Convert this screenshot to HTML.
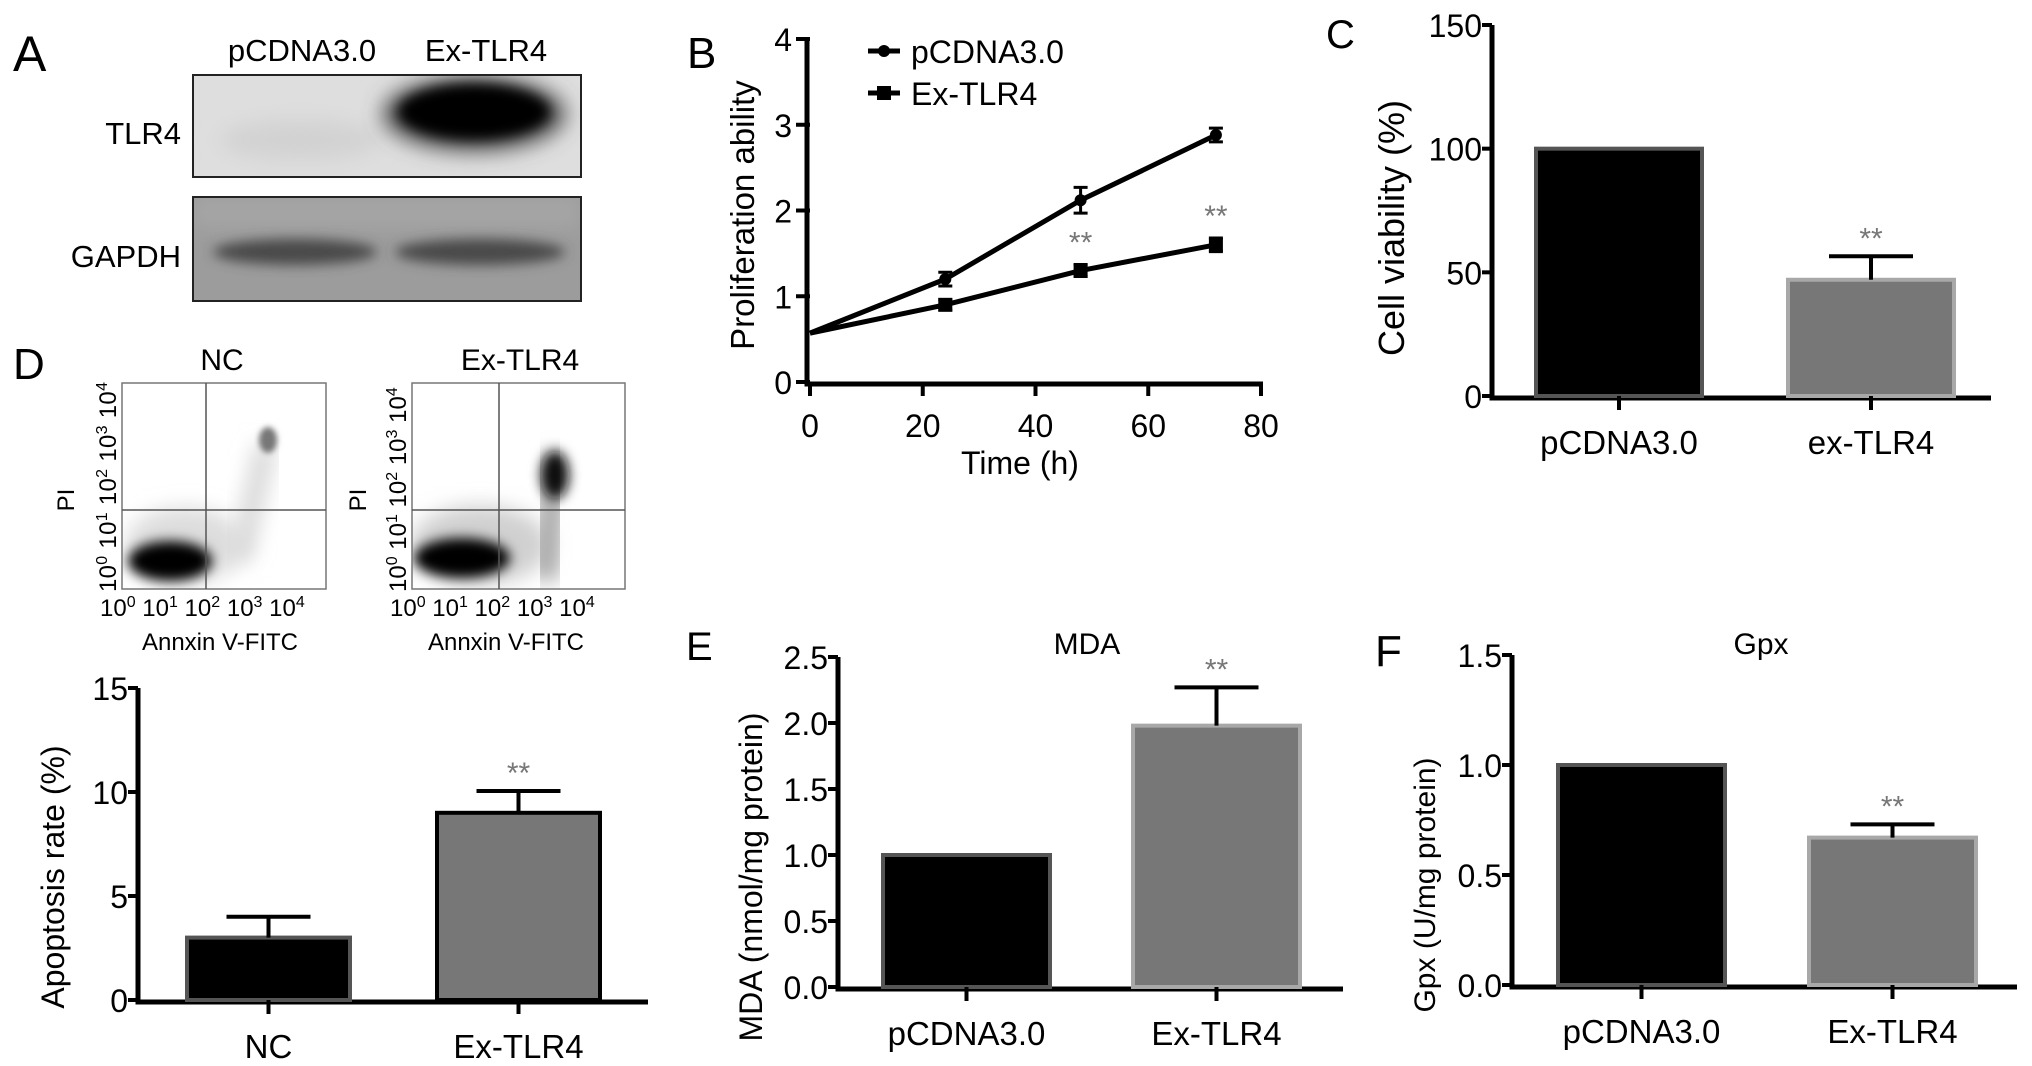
<!DOCTYPE html>
<html><head><meta charset="utf-8">
<style>
html,body{margin:0;padding:0;background:#fff;}
svg{display:block;font-family:"Liberation Sans",sans-serif;}
.nar{font-family:"Liberation Sans Narrow","Liberation Sans",sans-serif;}
</style></head>
<body>
<svg id="fig" width="2032" height="1066" viewBox="0 0 2032 1066" xmlns="http://www.w3.org/2000/svg">
<defs>
<filter id="blur8" x="-50%" y="-50%" width="200%" height="200%"><feGaussianBlur stdDeviation="10"/></filter>
<filter id="blur5" x="-50%" y="-50%" width="200%" height="200%"><feGaussianBlur stdDeviation="6"/></filter>
<filter id="blur3" x="-50%" y="-50%" width="200%" height="200%"><feGaussianBlur stdDeviation="3"/></filter>
<clipPath id="cb1"><rect x="193" y="75" width="388" height="102"/></clipPath>
<clipPath id="cb2"><rect x="193" y="197" width="388" height="104"/></clipPath>
<clipPath id="cf1"><rect x="122" y="383" width="204" height="206"/></clipPath>
<clipPath id="cf2"><rect x="412" y="383" width="213" height="206"/></clipPath>
</defs>

<g>
<text x="13" y="71" font-size="50" class="nar">A</text>
<text x="302" y="61" font-size="31" text-anchor="middle" class="nar">pCDNA3.0</text>
<text x="486" y="61" font-size="31" text-anchor="middle" class="nar">Ex-TLR4</text>
<text x="181" y="144" font-size="31" text-anchor="end" class="nar">TLR4</text>
<text x="181" y="267" font-size="31" text-anchor="end" class="nar">GAPDH</text>
<g clip-path="url(#cb1)">
<rect x="193" y="75" width="388" height="102" fill="#dedede"/>
<ellipse cx="300" cy="140" rx="80" ry="20" fill="#d2d2d2" filter="url(#blur8)"/>
<ellipse cx="474" cy="114" rx="92" ry="38" fill="#555" filter="url(#blur8)"/>
<ellipse cx="474" cy="112" rx="76" ry="28" fill="#000" filter="url(#blur5)"/>
</g>
<rect x="193" y="75" width="388" height="102" fill="none" stroke="#222" stroke-width="2"/>
<g clip-path="url(#cb2)">
<rect x="193" y="197" width="388" height="104" fill="#9c9c9c"/>
<rect x="193" y="197" width="388" height="30" fill="#a6a6a6" filter="url(#blur8)"/>
<ellipse cx="295" cy="252" rx="82" ry="13" fill="#4a4a4a" filter="url(#blur5)"/>
<ellipse cx="480" cy="252" rx="85" ry="13" fill="#4a4a4a" filter="url(#blur5)"/>
</g>
<rect x="193" y="197" width="388" height="104" fill="none" stroke="#222" stroke-width="2"/>
</g>

<g>
<text x="13" y="379" font-size="44" class="nar">D</text>
<text x="222" y="370" font-size="30" text-anchor="middle" class="nar">NC</text>
<text x="520" y="370" font-size="30" text-anchor="middle" class="nar">Ex-TLR4</text>
<g clip-path="url(#cf1)">
<rect x="122" y="383" width="204" height="206" fill="#fff"/>
<ellipse cx="185" cy="545" rx="60" ry="38" fill="#ddd" filter="url(#blur8)"/>
<path d="M240 560 L266 445" stroke="#d8d8d8" stroke-width="22" filter="url(#blur8)"/>
<ellipse cx="268" cy="440" rx="9" ry="13" fill="#777" filter="url(#blur3)"/>
<ellipse cx="170" cy="561" rx="42" ry="20" fill="#000" filter="url(#blur5)"/>
</g>
<rect x="122" y="383" width="204" height="206" fill="none" stroke="#777" stroke-width="1.5"/>
<line x1="206" y1="383" x2="206" y2="589" stroke="#555" stroke-width="1.5"/>
<line x1="122" y1="510" x2="326" y2="510" stroke="#555" stroke-width="1.5"/>
<g clip-path="url(#cf2)">
<rect x="412" y="383" width="213" height="206" fill="#fff"/>
<ellipse cx="480" cy="545" rx="70" ry="40" fill="#d0d0d0" filter="url(#blur8)"/>
<path d="M545 580 L555 455" stroke="#aaa" stroke-width="28" filter="url(#blur8)"/>
<ellipse cx="462" cy="558" rx="48" ry="20" fill="#000" filter="url(#blur5)"/>
<ellipse cx="555" cy="475" rx="14" ry="24" fill="#111" filter="url(#blur5)"/>
</g>
<rect x="412" y="383" width="213" height="206" fill="none" stroke="#777" stroke-width="1.5"/>
<line x1="499" y1="383" x2="499" y2="589" stroke="#555" stroke-width="1.5"/>
<line x1="412" y1="510" x2="625" y2="510" stroke="#555" stroke-width="1.5"/>
<g font-size="24" class="nar">
<text transform="translate(116,592) rotate(-90)" textLength="210">10<tspan dy="-9" font-size="16">0</tspan><tspan dy="9"> 10</tspan><tspan dy="-9" font-size="16">1</tspan><tspan dy="9"> 10</tspan><tspan dy="-9" font-size="16">2</tspan><tspan dy="9"> 10</tspan><tspan dy="-9" font-size="16">3</tspan><tspan dy="9"> 10</tspan><tspan dy="-9" font-size="16">4</tspan></text>
<text transform="translate(406,592) rotate(-90)">10<tspan dy="-9" font-size="16">0</tspan><tspan dy="9"> 10</tspan><tspan dy="-9" font-size="16">1</tspan><tspan dy="9"> 10</tspan><tspan dy="-9" font-size="16">2</tspan><tspan dy="9"> 10</tspan><tspan dy="-9" font-size="16">3</tspan><tspan dy="9"> 10</tspan><tspan dy="-9" font-size="16">4</tspan></text>
<text x="100" y="616">10<tspan dy="-9" font-size="16">0</tspan><tspan dy="9"> 10</tspan><tspan dy="-9" font-size="16">1</tspan><tspan dy="9"> 10</tspan><tspan dy="-9" font-size="16">2</tspan><tspan dy="9"> 10</tspan><tspan dy="-9" font-size="16">3</tspan><tspan dy="9"> 10</tspan><tspan dy="-9" font-size="16">4</tspan></text>
<text x="390" y="616">10<tspan dy="-9" font-size="16">0</tspan><tspan dy="9"> 10</tspan><tspan dy="-9" font-size="16">1</tspan><tspan dy="9"> 10</tspan><tspan dy="-9" font-size="16">2</tspan><tspan dy="9"> 10</tspan><tspan dy="-9" font-size="16">3</tspan><tspan dy="9"> 10</tspan><tspan dy="-9" font-size="16">4</tspan></text>
<text transform="translate(74,500) rotate(-90)" text-anchor="middle">PI</text>
<text transform="translate(366,500) rotate(-90)" text-anchor="middle">PI</text>
<text x="220" y="650" text-anchor="middle">Annxin V-FITC</text>
<text x="506" y="650" text-anchor="middle">Annxin V-FITC</text>
</g>
</g>

<text x="687" y="68" font-size="44" class="nar">B</text>
<text x="1326" y="48" font-size="40" class="nar">C</text>
<text x="686" y="660" font-size="40" class="nar">E</text>
<text x="1375" y="666" font-size="44" class="nar">F</text>
<text x="1087" y="654" font-size="30" text-anchor="middle" class="nar">MDA</text>
<text x="1761" y="654" font-size="30" text-anchor="middle" class="nar">Gpx</text>

<g id="charts"></g>
</svg>
<script>
// Panel B data
var timeH = [0, 24, 48, 72];
var pcdnaVals = [0.57, 1.2, 2.12, 2.88];
var pcdnaErr = [0, 0.08, 0.15, 0.08];
var exVals = [0.57, 0.9, 1.3, 1.6];
var exErr = [0, 0.06, 0.07, 0.08];
var bYTicks = [0, 1, 2, 3, 4];
var bXTicks = [0, 20, 40, 60, 80];
var bSig = [false, false, true, true];
// Panel C
var cCats = ["pCDNA3.0", "ex-TLR4"];
var cVals = [100, 47];
var cErr = [0, 9.5];
var cTicks = [0, 50, 100, 150];
// Panel D bar
var dCats = ["NC", "Ex-TLR4"];
var dVals = [3.0, 9.0];
var dErr = [1.0, 1.05];
var dTicks = [0, 5, 10, 15];
// Panel E
var eCats = ["pCDNA3.0", "Ex-TLR4"];
var eVals = [1.0, 1.98];
var eErr = [0, 0.29];
var eTicks = ["0.0", "0.5", "1.0", "1.5", "2.0", "2.5"];
// Panel F
var fCats = ["pCDNA3.0", "Ex-TLR4"];
var fVals = [1.0, 0.67];
var fErr = [0, 0.06];
var fTicks = ["0.0", "0.5", "1.0", "1.5"];

var NS = "http://www.w3.org/2000/svg";
var root = document.getElementById("charts");
function mk(tag, attrs, parent, txt) {
  var e = document.createElementNS(NS, tag);
  for (var k in attrs) e.setAttribute(k, attrs[k]);
  if (txt !== undefined) e.textContent = txt;
  (parent || root).appendChild(e);
  return e;
}

(function () {
  var g = mk("g", {});
  
  
  var x0 = 810, x1 = 1261, y0 = 382, yTop = 39;
  function sx(v) { return x0 + (v - 0) / 80 * (x1 - x0); }
  function sy(v) { return y0 - v / 4 * (y0 - yTop); }
  var ax = mk("path", {d: "M" + (x0 - 3) + " " + (yTop) + " L" + (x0 - 3) + " " + (y0 + 2) + " L" + (x1 + 2) + " " + (y0 + 2), fill: "none", stroke: "#000", "stroke-width": 5}, g);
  
  
  bYTicks.forEach(function (t) {
    mk("line", {x1: x0 - 14, x2: x0, y1: sy(t), y2: sy(t), stroke: "#000", "stroke-width": 4}, g);
    var tl = mk("text", {x: x0 - 18, y: sy(t) + 12, "font-size": 32, "text-anchor": "end", class: "nar"}, g, String(t));
    
    
  });
  bXTicks.forEach(function (t) {
    mk("line", {x1: sx(t), x2: sx(t), y1: y0, y2: y0 + 14, stroke: "#000", "stroke-width": 4}, g);
    var tl = mk("text", {x: sx(t), y: 437, "font-size": 32, "text-anchor": "middle", class: "nar"}, g, String(t));
    
    
  });
  var xt = mk("text", {x: 1020, y: 474, "font-size": 32, "text-anchor": "middle", class: "nar"}, g, "Time (h)");
  
  
  var yt = mk("text", {transform: "translate(754,215) rotate(-90)", "font-size": 33, "text-anchor": "middle"}, g, "Proliferation ability");
  
  
  function series(vals, errs, name, square) {
    var d = vals.map(function (v, i) { return (i ? "L" : "M") + sx(timeH[i]) + " " + sy(v); }).join(" ");
    var p = mk("path", {d: d, fill: "none", stroke: "#000", "stroke-width": 5}, g);
    
    
    vals.forEach(function (v, i) {
      if (i === 0) return;
      var cx = sx(timeH[i]);
      var e = errs[i];
      mk("path", {d: "M" + cx + " " + sy(v + e) + " L" + cx + " " + sy(v - e) + " M" + (cx - 7) + " " + sy(v + e) + " L" + (cx + 7) + " " + sy(v + e) + " M" + (cx - 7) + " " + sy(v - e) + " L" + (cx + 7) + " " + sy(v - e), stroke: "#000", "stroke-width": 3, fill: "none"}, g);
      var m = square ? mk("rect", {x: cx - 7, y: sy(v) - 7, width: 14, height: 14, fill: "#000"}, g)
                     : mk("circle", {cx: cx, cy: sy(v), r: 6, fill: "#000"}, g);
      
      
    });
  }
  series(pcdnaVals, pcdnaErr, 'pcdna', false);
  series(exVals, exErr, 'ex-tlr4', true);
  exVals.forEach(function (v, i) {
    if (!bSig[i]) return;
    var s = mk("text", {x: sx(timeH[i]), y: sy(v + exErr[i]) - 12, "font-size": 30, "text-anchor": "middle", fill: "#777"}, g, "**");
    
    
  });
  var lg = mk("g", {}, g);
  
  
  mk("line", {x1: 868, x2: 900, y1: 51, y2: 51, stroke: "#000", "stroke-width": 5}, lg);
  mk("circle", {cx: 884, cy: 51, r: 6, fill: "#000"}, lg);
  var l1 = mk("text", {x: 911, y: 63, "font-size": 32}, lg, "pCDNA3.0");
  
  
  mk("line", {x1: 868, x2: 900, y1: 93, y2: 93, stroke: "#000", "stroke-width": 5}, lg);
  mk("rect", {x: 877, y: 86, width: 14, height: 14, fill: "#000"}, lg);
  var l2 = mk("text", {x: 911, y: 105, "font-size": 32}, lg, "Ex-TLR4");
  
  
})();

function barChart(o) {
  var g = mk("g", {});
  
  
  var ymax = o.max;
  function sy(v) { return o.y0 - v / ymax * (o.y0 - o.yTop); }
  mk("path", {d: "M" + o.ax + " " + o.yTop + " L" + o.ax + " " + (o.y0 + 2) + " L" + o.xEnd + " " + (o.y0 + 2), fill: "none", stroke: "#000", "stroke-width": 5}, g);
  o.ticks.forEach(function (t) {
    var v = parseFloat(t);
    mk("line", {x1: o.ax - 10, x2: o.ax, y1: sy(v), y2: sy(v), stroke: "#000", "stroke-width": 4}, g);
    var tl = mk("text", {x: o.ax - 10, y: sy(v) + 12, "font-size": 32, "text-anchor": "end", class: "nar"}, g, t);
    
    
  });
  o.vals.forEach(function (v, i) {
    var bx = o.barX[i], bw = o.barW;
    var cx = bx + bw / 2;
    var grey = i === 1;
    var r = mk("rect", {x: bx, y: sy(v), width: bw, height: o.y0 - sy(v), fill: grey ? "#777" : "#000", stroke: grey ? (o.outline ? "#000" : "#a8a8a8") : "#555", "stroke-width": 4}, g);
    
    
    if (o.errs[i] > 0) {
      var yt = sy(v + o.errs[i]);
      mk("path", {d: "M" + cx + " " + sy(v) + " L" + cx + " " + yt + " M" + (cx - 42) + " " + yt + " L" + (cx + 42) + " " + yt, stroke: "#000", "stroke-width": 4, fill: "none"}, g);
    }
    if (o.sig[i]) {
      var s = mk("text", {x: cx, y: sy(v + o.errs[i]) - 8, "font-size": 30, "text-anchor": "middle", fill: "#777"}, g, "**");
      
      
    }
    mk("line", {x1: cx, x2: cx, y1: o.y0, y2: o.y0 + 14, stroke: "#000", "stroke-width": 4}, g);
    var cl = mk("text", {x: cx, y: o.y0 + 58, "font-size": 33, "text-anchor": "middle", class: "nar"}, g, o.cats[i]);
    
    
  });
  var ytl = mk("text", {transform: "translate(" + o.titleX + "," + o.titleY + ") rotate(-90)", "font-size": o.titleSize, "text-anchor": "middle"}, g, o.title);
  
  
}

barChart({name: 'panel-c-viability-chart', prefix: 'c', vals: cVals, errs: cErr, cats: cCats, ticks: cTicks.map(String), max: 150,
  y0: 396, yTop: 25, ax: 1492, xEnd: 1991, barX: [1536, 1788], barW: 166, sig: [false, true], title: "Cell viability (%)", titleX: 1404, titleY: 228, titleSize: 36});
barChart({name: 'panel-d-apoptosis-chart', prefix: 'd', vals: dVals, errs: dErr, cats: dCats, ticks: dTicks.map(String), max: 15,
  y0: 1000, yTop: 688, ax: 138, xEnd: 648, barX: [187, 437], barW: 163, sig: [false, true], outline: true, title: "Apoptosis rate (%)", titleX: 64, titleY: 877, titleSize: 32});
barChart({name: 'panel-e-mda-chart', prefix: 'e', vals: eVals, errs: eErr, cats: eCats, ticks: eTicks, max: 2.5,
  y0: 987, yTop: 657, ax: 838, xEnd: 1343, barX: [883, 1133], barW: 167, sig: [false, true], title: "MDA (nmol/mg protein)", titleX: 762, titleY: 877, titleSize: 32});
barChart({name: 'panel-f-gpx-chart', prefix: 'f', vals: fVals, errs: fErr, cats: fCats, ticks: fTicks, max: 1.5,
  y0: 985, yTop: 655, ax: 1512, xEnd: 2017, barX: [1558, 1809], barW: 167, sig: [false, true], title: "Gpx (U/mg protein)", titleX: 1435, titleY: 885, titleSize: 30});
</script>
</body></html>
